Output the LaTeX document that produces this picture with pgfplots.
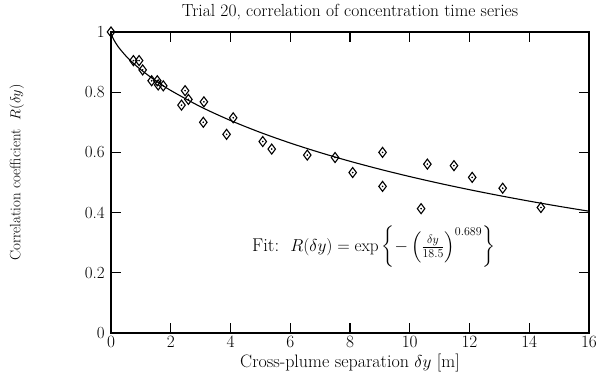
\documentclass[border=0pt]{standalone}
\usepackage{amsmath}
\usepackage{pgfplots}
\pgfplotsset{compat=1.18}
\usepackage{pgfplotstable}
\pgfplotstableread{
x y
0 1.0
0.75 0.905
0.94 0.905
1.06 0.874
1.36 0.838
1.55 0.838
1.58 0.824
1.75 0.821
2.36 0.757
2.48 0.805
2.59 0.776
3.09 0.700
3.11 0.768
3.87 0.660
4.09 0.715
5.08 0.636
5.38 0.611
6.57 0.591
7.50 0.583
8.09 0.533
9.09 0.600
9.09 0.487
10.38 0.413
10.59 0.561
11.48 0.556
12.09 0.517
13.11 0.481
14.39 0.417
}\measured
\pgfplotstableread{
x y
0 1.0
0.02 0.9910
0.05 0.9831
0.1 0.9730
0.25 0.9498
0.5 0.9203
0.75 0.8960
1 0.8746
1.5 0.8377
2 0.8058
3 0.7516
4 0.7060
5 0.6663
6 0.6311
7 0.5994
8 0.5705
9 0.5441
10 0.5197
11 0.4971
12 0.4761
13 0.4565
14 0.4381
15 0.4208
16 0.4046
}\fitcurve
\begin{document}
\begin{tikzpicture}
\begin{axis}[
  scale only axis,
  width=478pt, height=301pt,
  xmin=0, xmax=16, ymin=0, ymax=1,
  xtick={0,2,...,16},
  ytick={0,0.2,0.4,0.6,0.8,1},
  yticklabels={0,0.2,0.4,0.6,0.8,1},
  tick align=inside,
  major tick length=10pt,
  axis line style={line width=1.5pt},
  every tick/.style={black, line width=1.1pt},
  tick label style={font=\fontsize{17}{20}\selectfont},
  xticklabel style={inner sep=0pt, yshift=-3pt},
  yticklabel style={inner sep=0pt, xshift=-6pt},
  title style={font=\fontsize{17.5}{20}\selectfont, inner sep=0pt,
    at={(axis description cs:0.5,1)}, anchor=base, yshift=9pt},
  title={Trial 20, correlation of concentration time series},
  xlabel={Cross-plume separation $\delta y$ [m]},
  ylabel={Correlation coefficient\ \ $R(\delta y)$},
  xlabel style={font=\fontsize{18}{20}\selectfont, inner sep=0pt,
    at={(axis description cs:0.5,0)}, anchor=base, yshift=-35pt},
  ylabel style={font=\fontsize{15}{17}\selectfont, inner sep=0pt,
    at={(axis description cs:-0.197,0.533)}, anchor=center},
  clip=false,
]
\addplot[black, line width=1.1pt, smooth, no markers] table[x=x,y=y] {\fitcurve};
\addplot[only marks, mark=diamond, mark size=5pt, mark options={black, line width=1.1pt, fill=white}] table[x=x,y=y] {\measured};
\addplot[only marks, mark=*, mark size=0.6pt, mark options={black}] table[x=x,y=y] {\measured};
\node[anchor=west, inner sep=0pt, font=\fontsize{18.5}{21}\selectfont] at (axis cs:4.72,0.286)
  {Fit:\ \ $R(\delta y)=\exp\left\{-\left(\tfrac{\delta y}{18.5}\right)^{0.689}\right\}$};
\end{axis}
\pgfresetboundingbox
\path[use as bounding box] ([shift={(-111pt,-43pt)}]current axis.south west) rectangle ([shift={(10pt,32pt)}]current axis.north east);
\end{tikzpicture}
\end{document}
